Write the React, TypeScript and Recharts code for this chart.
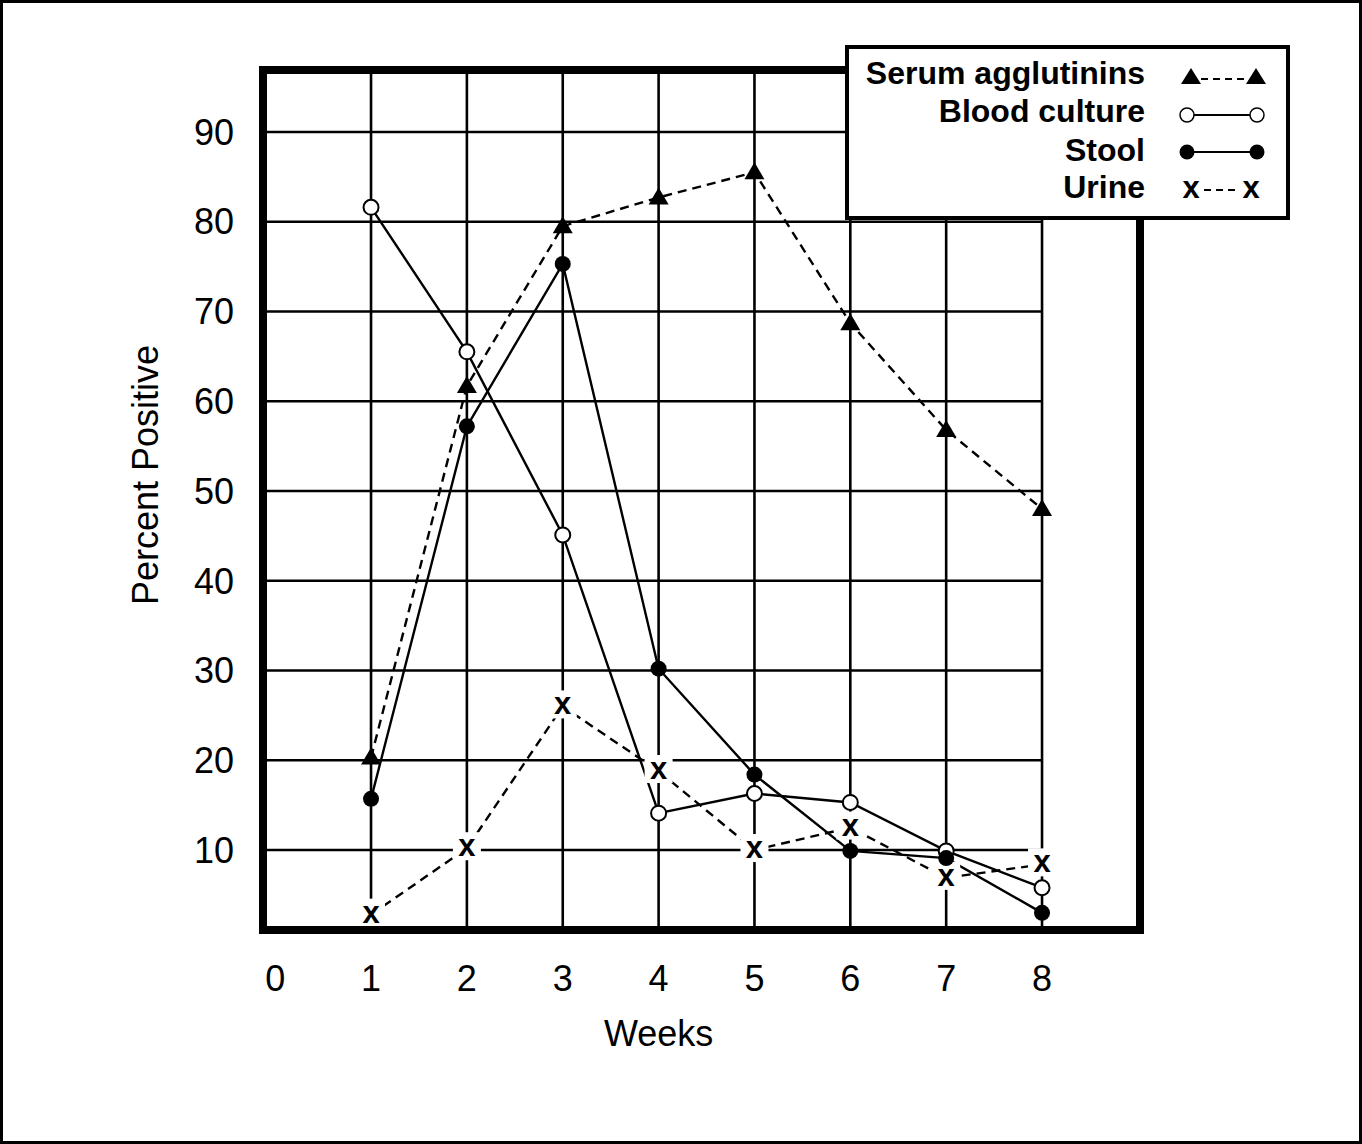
import React from 'react';
import { LineChart, Line, XAxis, YAxis, ReferenceLine, ReferenceArea, Label } from 'recharts';

// weeks after onset
const weeks = [1, 2, 3, 4, 5, 6, 7, 8];
// percent positive
const serumAgglutinins = [20.3, 61.7, 79.5, 82.7, 85.5, 68.7, 56.8, 48.0];
const bloodCulture = [81.6, 65.5, 45.1, 14.1, 16.3, 15.3, 9.9, 5.8];
const stool = [15.7, 57.2, 75.3, 30.2, 18.4, 9.9, 9.1, 3.0];
const urine = [2.8, 10.2, 26.0, 18.8, 10.0, 12.5, 6.9, 8.4];

const xTicks = [0, 1, 2, 3, 4, 5, 6, 7, 8];
const yTicks = [10, 20, 30, 40, 50, 60, 70, 80, 90];

const X_DOMAIN: [number, number] = [-0.127, 9.022];
const Y_DOMAIN: [number, number] = [1.09, 96.9];

const FONT = '"Liberation Sans", Arial, Helvetica, sans-serif';

const data = weeks.map((w, i) => ({
    week: w,
    serum: serumAgglutinins[i],
    blood: bloodCulture[i],
    stool: stool[i],
    urine: urine[i],
}));

const TriangleDot = (props: any) => {
    const { cx, cy, index } = props;
    if (cx == null || cy == null) return null;
    return <path key={`tri-${index}`} d={`M${cx},${cy - 10} L${cx - 10},${cy + 7} L${cx + 10},${cy + 7} Z`} fill="#000" />;
};

const OpenDot = (props: any) => {
    const { cx, cy, index } = props;
    if (cx == null || cy == null) return null;
    return <circle key={`open-${index}`} cx={cx} cy={cy} r={7.5} fill="#fff" stroke="#000" strokeWidth={2} />;
};

const FilledDot = (props: any) => {
    const { cx, cy, index } = props;
    if (cx == null || cy == null) return null;
    return <circle key={`fill-${index}`} cx={cx} cy={cy} r={8} fill="#000" />;
};

const CrossDot = (props: any) => {
    const { cx, cy, index } = props;
    if (cx == null || cy == null) return null;
    return (
        <g key={`x-${index}`}>
            <rect x={cx - 14} y={cy - 16} width={28} height={28} fill="#fff" />
            <text x={cx} y={cy + 8} textAnchor="middle" fontFamily={FONT} fontWeight="bold" fontSize={31} fill="#000">x</text>
        </g>
    );
};

const WeeksLabel = (props: any) => {
    const vb = props.viewBox || { x: 263, y: 930, width: 877, height: 100 };
    const cx = vb.x + ((4 - X_DOMAIN[0]) / (X_DOMAIN[1] - X_DOMAIN[0])) * vb.width;
    return (
        <text x={cx} y={vb.y + 116} textAnchor="middle" fontFamily={FONT} fontSize={36} fill="#000">Weeks</text>
    );
};

const PercentLabel = (props: any) => {
    const vb = props.viewBox || { x: 27, y: 70, width: 236, height: 860 };
    const cx = vb.x + vb.width / 2;
    const cy = vb.y + 405;
    return (
        <text x={cx} y={cy} transform={`rotate(-90 ${cx} ${cy})`} textAnchor="middle" dominantBaseline="central"
            fontFamily={FONT} fontSize={36} fill="#000">Percent Positive</text>
    );
};

const legendRows = [
    { name: 'Serum agglutinins', y: 39 },
    { name: 'Blood culture', y: 77 },
    { name: 'Stool', y: 116 },
    { name: 'Urine', y: 153 },
];

const LegendBox = () => (
    <svg width={445} height={177} style={{ position: 'absolute', left: 845, top: 45 }}>
        <rect x={2} y={2} width={441} height={171} fill="#fff" stroke="#000" strokeWidth={4} />
        {legendRows.map((r) => (
            <text key={r.name} x={300} y={r.y} textAnchor="end" fontFamily={FONT} fontWeight="bold" fontSize={32} fill="#000">{r.name}</text>
        ))}
        {/* serum */}
        <line x1={356} y1={34} x2={401} y2={34} stroke="#000" strokeWidth={2} strokeDasharray="7 5" />
        <path d="M346,23 L336,39 L356,39 Z" fill="#000" />
        <path d="M411,23 L401,39 L421,39 Z" fill="#000" />
        {/* blood culture */}
        <line x1={342} y1={70} x2={412} y2={70} stroke="#000" strokeWidth={2} />
        <circle cx={342} cy={70} r={7} fill="#fff" stroke="#000" strokeWidth={1.5} />
        <circle cx={412} cy={70} r={7} fill="#fff" stroke="#000" strokeWidth={1.5} />
        {/* stool */}
        <line x1={342} y1={107} x2={412} y2={107} stroke="#000" strokeWidth={2} />
        <circle cx={342} cy={107} r={7.5} fill="#000" />
        <circle cx={412} cy={107} r={7.5} fill="#000" />
        {/* urine */}
        <line x1={359} y1={145} x2={394} y2={145} stroke="#000" strokeWidth={2} strokeDasharray="7 5" />
        <text x={346} y={153} textAnchor="middle" fontFamily={FONT} fontWeight="bold" fontSize={31} fill="#000">x</text>
        <text x={406} y={153} textAnchor="middle" fontFamily={FONT} fontWeight="bold" fontSize={31} fill="#000">x</text>
    </svg>
);

export default function App() {
    return (
        <div style={{ position: 'relative', width: 1362, height: 1144, background: '#fff', fontFamily: FONT }}>
            <style>{'body{margin:0;}'}</style>
            <LineChart width={1362} height={1144} data={data} margin={{ top: 70, right: 222, bottom: 114, left: 27 }}>
                <XAxis
                    dataKey="week"
                    type="number"
                    domain={X_DOMAIN}
                    ticks={xTicks}
                    allowDataOverflow
                    axisLine={false}
                    tickLine={false}
                    tickSize={0}
                    tickMargin={35}
                    height={100}
                    tick={{ fill: '#000', fontSize: 36, fontFamily: FONT }}
                >
                    <Label content={WeeksLabel} />
                </XAxis>
                <YAxis
                    type="number"
                    domain={Y_DOMAIN}
                    ticks={yTicks}
                    allowDataOverflow
                    axisLine={false}
                    tickLine={false}
                    tickSize={0}
                    tickMargin={29}
                    width={236}
                    tick={{ fill: '#000', fontSize: 36, fontFamily: FONT }}
                >
                    <Label content={PercentLabel} />
                </YAxis>

                {yTicks.map((v) => (
                    <ReferenceLine key={`h-${v}`} segment={[{ x: X_DOMAIN[0], y: v }, { x: 8, y: v }]} stroke="#000" strokeWidth={2.6} />
                ))}
                {weeks.map((w) => (
                    <ReferenceLine key={`v-${w}`} x={w} stroke="#000" strokeWidth={2.6} />
                ))}

                <Line dataKey="urine" stroke="#000" strokeWidth={2.4} strokeDasharray="9 6" dot={CrossDot} activeDot={false} isAnimationActive={false} />
                <Line dataKey="blood" stroke="#000" strokeWidth={2.4} dot={OpenDot} activeDot={false} isAnimationActive={false} />
                <Line dataKey="stool" stroke="#000" strokeWidth={2.4} dot={FilledDot} activeDot={false} isAnimationActive={false} />
                <Line dataKey="serum" stroke="#000" strokeWidth={2.4} strokeDasharray="9 6" dot={TriangleDot} activeDot={false} isAnimationActive={false} />

                <ReferenceArea zIndex={2000} x1={X_DOMAIN[0]} x2={X_DOMAIN[1]} y1={Y_DOMAIN[0]} y2={Y_DOMAIN[1]} fill="none" fillOpacity={0} stroke="#000" strokeWidth={8} />
            </LineChart>
            <LegendBox />
            <div style={{ position: 'absolute', left: 0, top: 0, width: 1362, height: 1144, boxSizing: 'border-box', border: '3px solid #000', pointerEvents: 'none' }} />
        </div>
    );
}
